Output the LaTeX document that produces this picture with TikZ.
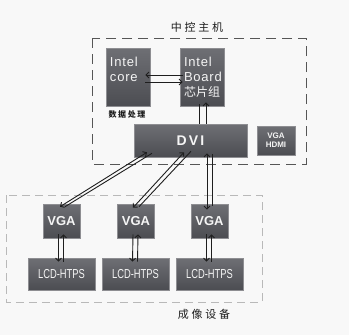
\documentclass[tikz,border=0pt]{standalone}
\usepackage{fontspec}
\setmainfont{Liberation Sans}
\newfontfamily\cjk{Noto Sans CJK SC}
\newfontfamily\narrow[FakeStretch=0.72]{Liberation Sans}
\usepackage{tikz}
\usetikzlibrary{arrows.meta}
\definecolor{boxtop}{HTML}{6E6F74}
\definecolor{boxbot}{HTML}{4C4D52}
\definecolor{boxedge}{HTML}{8E8E92}
\definecolor{ink}{HTML}{1E1E1E}
\definecolor{paper}{HTML}{F8F8F8}

\begin{document}
\begin{tikzpicture}[x=1pt, y=-1pt, ->, >={Straight Barb[length=3pt,width=6pt]}, line width=0.9pt, color=ink,
    box/.style={draw=boxedge, line width=0.6pt, top color=boxtop, bottom color=boxbot, text=white!92!gray, inner sep=0pt},
    intel/.style={font=\fontsize{13}{15}\selectfont\addfontfeatures{LetterSpace=6}, align=left, text width=36},
    cjklabel/.style={font=\cjk\fontsize{11}{13}\selectfont\addfontfeatures{LetterSpace=25}, text=ink}]
                \fill[paper] (0,0) rectangle (349,335);
                \useasboundingbox (0,0) rectangle (349,335);
                \node[cjklabel] (host) at (197,27) {中控主机};
                \draw[-, dash pattern=on 10pt off 6pt, line width=1pt, color=ink!75] (92,38) rectangle (306,164);
                \node[box, intel, minimum width=44, minimum height=58] (core) at (128,77) {Intel\\core\\\mbox{}};
                \node[box, intel, minimum width=44, minimum height=58] (board) at (202,77) {Intel\\Board\\{\cjk\fontsize{12}{15}\selectfont 芯片组}};
                \node[font=\cjk\bfseries\fontsize{8}{9}\selectfont\addfontfeatures{LetterSpace=20}] (proc) at (127,114) {数据处理};
                \node[box, minimum width=113, minimum height=33, font=\bfseries\fontsize{14}{16}\selectfont\addfontfeatures{LetterSpace=15}] (dvi) at (190.5,140.5) {DVI};
                \node[box, minimum width=38, minimum height=29, align=center, font=\bfseries\fontsize{8}{9}\selectfont] (vgahdmi) at (276,140.5) {VGA\\HDMI};
                \draw[-, dash pattern=on 8pt off 5pt, line width=0.8pt, color=gray!55] (6,195) rectangle (262,302);
                \node[box, minimum width=37, minimum height=34, font=\bfseries\fontsize{13}{15}\selectfont] (vga1) at (61.5,221) {VGA};
                \node[box, minimum width=37, minimum height=34, font=\bfseries\fontsize{13}{15}\selectfont] (vga2) at (136,221) {VGA};
                \node[box, minimum width=37, minimum height=34, font=\bfseries\fontsize{13}{15}\selectfont] (vga3) at (209.5,221) {VGA};
                \node[box, minimum width=67, minimum height=32, font=\narrow\fontsize{13}{15}\selectfont] (lcd1) at (61.5,274) {LCD-HTPS};
                \node[box, minimum width=67, minimum height=32, font=\narrow\fontsize{13}{15}\selectfont] (lcd2) at (135.5,274) {LCD-HTPS};
                \node[box, minimum width=67, minimum height=32, font=\narrow\fontsize{13}{15}\selectfont] (lcd3) at (209.5,274) {LCD-HTPS};
                \node[cjklabel] (imaging) at (204,314) {成像设备};
                % core and board
                \draw ([xshift=3pt,yshift=2pt]board.west) -- ([xshift=-5pt,yshift=2pt]core.east);
                \draw ([xshift=-5pt,yshift=-5pt]core.east) -- ([xshift=3pt,yshift=-5pt]board.west);
                % board and dvi
                \draw[-] ([xshift=-3pt,yshift=2pt]board.south) -- ([xshift=8.5pt]dvi.north);
                \draw ([xshift=15.5pt]dvi.north) -- ([xshift=4pt,yshift=4pt]board.south);
                % dvi and vga
                \draw[<->] ([xshift=-1.5pt,yshift=-3pt]vga1.north) -- ([xshift=-43.5pt,yshift=5pt]dvi.south);
                \draw[-] ([xshift=3.5pt,yshift=-3pt]vga1.north) -- ([xshift=-38.5pt,yshift=4pt]dvi.south);
                \draw[<->] ([xshift=-3pt,yshift=-4pt]vga2.north) -- ([xshift=-6.5pt,yshift=5pt]dvi.south);
                \draw[-] ([xshift=3pt,yshift=-3pt]vga2.north) -- ([xshift=0.5pt,yshift=6pt]dvi.south);
                \draw[<->] ([xshift=-2.5pt,yshift=-6pt]vga3.north) -- ([xshift=16.5pt,yshift=4pt]dvi.south);
                \draw[-] ([xshift=2.5pt,yshift=-2pt]vga3.north) -- ([xshift=21.5pt,yshift=3pt]dvi.south);
                % vga and lcd
                \draw ([xshift=-3pt,yshift=4pt]vga1.south) -- ([xshift=-3pt,yshift=-4pt]lcd1.north);
                \draw ([xshift=2pt,yshift=-4pt]lcd1.north) -- ([xshift=2pt,yshift=4pt]vga1.south);
                \draw ([xshift=-3pt,yshift=4pt]vga2.south) -- ([xshift=-3pt,yshift=-4pt]lcd2.north);
                \draw ([xshift=2pt,yshift=-4pt]lcd2.north) -- ([xshift=2pt,yshift=4pt]vga2.south);
                \draw ([xshift=-3pt,yshift=4pt]vga3.south) -- ([xshift=-3pt,yshift=-4pt]lcd3.north);
                \draw ([xshift=2pt,yshift=-4pt]lcd3.north) -- ([xshift=2pt,yshift=4pt]vga3.south);
            \end{tikzpicture}
\end{document}
